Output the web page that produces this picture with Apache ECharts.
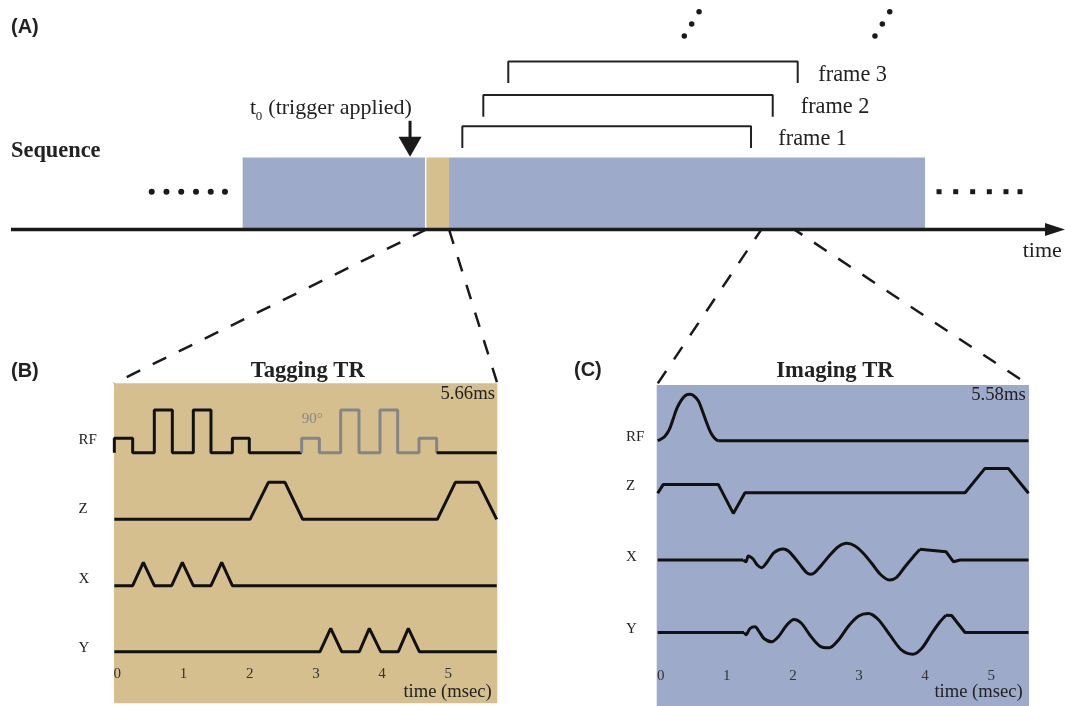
<!DOCTYPE html>
<html><head><meta charset="utf-8">
<script src="https://cdn.jsdelivr.net/npm/echarts@6/dist/echarts.min.js"></script>
<style>html,body{margin:0;padding:0;background:#fff}#c{width:1065px;height:706px}</style>
</head><body><div id="c"></div>
<script>
// ---------------- Panel A: sequence overview (arbitrary time units, 0..100) ----------------
const blockNames  = ['preparation', 'tagging TR', 'imaging TRs'];
const blockStart  = [21.98, 39.41, 41.56];
const blockEnd    = [39.28, 41.56, 86.72];
const frameNames  = ['frame 1', 'frame 2', 'frame 3'];
const frameStart  = [42.82, 44.81, 47.18];
const frameEnd    = [70.21, 72.27, 74.64];
const triggerTime = 37.86;
const imagingTRzoom = [71.38, 73.9];
const leftEllipsis  = [13.35, 14.75, 16.15, 17.55, 18.95, 20.3];
const rightEllipsis = [88.05, 89.63, 91.24, 92.82, 94.4, 95.73];
const moreFramesA = [[63.88, 8.06], [64.58, 8.56], [65.28, 9.07]];
const moreFramesB = [[81.97, 8.06], [82.67, 8.56], [83.37, 9.07]];

// ---------------- Panel B: Tagging TR (time ms, amplitude a.u.) ----------------
const tagTicks = [0, 1, 2, 3, 4, 5];
const tagRF = [[-0.045,0],[-0.045,14.4],[0.232,14.4],[0.232,0],[0.559,0],[0.559,42.7],[0.831,42.7],[0.831,0],
  [1.148,0],[1.148,42.7],[1.415,42.7],[1.415,0],[1.738,0],[1.738,14.4],[1.994,14.4],[1.994,0],[2.785,0]];
const tagRF90 = [[2.785,0],[2.785,14.4],[3.052,14.4],[3.052,0],[3.374,0],[3.374,42.7],[3.651,42.7],[3.651,0],
  [3.968,0],[3.968,42.7],[4.235,42.7],[4.235,0],[4.557,0],[4.557,14.4],[4.824,14.4],[4.824,0]];
const tagRFend = [[4.824,0],[5.731,0]];
const tagZ = [[-0.045,0],[2.005,0],[2.282,37],[2.533,37],[2.8,0],[4.834,0],[5.106,37],[5.453,37],[5.731,0]];
const tagX = [[-0.045,0],[0.232,0],[0.393,23.4],[0.559,0],[0.821,0],[0.982,23.4],[1.148,0],[1.415,0],[1.577,23.4],[1.738,0],[5.731,0]];
const tagY = [[-0.045,0],[3.062,0],[3.223,23.4],[3.389,0],[3.656,0],[3.807,23.4],[3.979,0],[4.245,0],[4.396,23.4],[4.562,0],[5.731,0]];

// ---------------- Panel C: Imaging TR (time ms, amplitude a.u.) ----------------
const imgTicks = [0, 1, 2, 3, 4, 5];
const imgRFpulse = [[-0.045,0],[0.0,1.5],[0.065,4.5],[0.13,11],[0.19,22],[0.25,33],[0.318,41],[0.38,45.5],[0.443,46.4],
  [0.5,45],[0.569,40],[0.63,30],[0.696,18],[0.75,9],[0.796,4],[0.84,1],[0.871,0]];
const imgRFflat = [[0.871,0],[5.565,0]];
const imgZ = [[-0.045,-0.5],[0.04,8.3],[0.871,8.3],[1.099,-20.7],[1.275,0],[4.605,0],[4.906,24.3],[5.259,24.3],[5.565,-0.5]];
const imgXflat = [[-0.045,0],[1.25,0]];
const imgXwave = [[1.25,0],[1.29,-1.7],[1.326,4],[1.401,0.7],[1.462,-5],[1.527,-7.7],[1.603,-2.7],[1.704,6.7],[1.78,10],
  [1.855,11],[1.931,9],[2.032,1.7],[2.133,-6.7],[2.208,-12.7],[2.269,-14.3],[2.334,-12.3],[2.435,-5],[2.561,5],[2.687,13.3],
  [2.813,16.7],[2.94,14],[3.065,6.7],[3.192,-3.3],[3.318,-14],[3.459,-20],[3.57,-17.3],[3.696,-6.7],[3.822,3.3],[3.923,10.7]];
const imgXramp = [[3.923,10.7],[4.316,8.3],[4.427,-1.7],[4.53,0],[5.565,0]];
const imgYflat = [[-0.045,0],[1.26,0]];
const imgYwave = [[1.26,0],[1.29,-2.3],[1.351,4],[1.427,5.7],[1.492,0.7],[1.563,-6],[1.679,-9.3],[1.78,-4.3],[1.906,7.3],
  [2.017,13],[2.133,9],[2.259,-2.7],[2.41,-13.7],[2.551,-15.3],[2.687,-7.7],[2.839,6.3],[2.99,16.3],[3.141,19],[3.292,13],
  [3.469,-2.7],[3.646,-17.7],[3.812,-21.7],[3.948,-16],[4.099,-1],[4.226,10.7],[4.316,17.3]];
const imgYramp = [[4.316,17.3],[4.402,17],[4.604,0],[5.565,0]];

const channelNames = ['RF', 'Z', 'X', 'Y'];

// ---------------- layout / style ----------------
const L = {
  blockTop: 3.0, frameLevel: [4.3, 5.6, 7.0], legLen: 0.9,
  ellipsisLevel: 1.575,
  tagLane: { RF: 0, Z: -66.6, X: -133, Y: -199 },
  imgLane: { RF: 0, Z: -52, X: -119.3, Y: -191.8 },
  tagLabelAt: [12.4, -56.8, -126.3, -195.3],
  imgLabelAt: [3.4, -45.3, -116.6, -188.6]
};
const BLUE = '#9eaac9', TAN = '#d5bf8f', INK = '#111', TXT = '#222';
const SERIF = '"Liberation Serif", "DejaVu Serif", serif';
const SANS = '"Liberation Sans", Arial, sans-serif';

const chart = echarts.init(document.getElementById('c'), null, { renderer: 'canvas' });

function trace(data, lane, ax, color, smooth) {
  return {
    type: 'line', xAxisIndex: ax, yAxisIndex: ax, symbol: 'none', silent: true, z: 5,
    smooth: smooth || false, animation: false,
    data: data.map(p => [p[0], p[1] + lane]),
    lineStyle: { color: color, width: 3 }
  };
}
function nameFor(list) {
  return v => { let best = 0; list.forEach((x, i) => { if (Math.abs(x - v) < Math.abs(list[best] - v)) best = i; }); return channelNames[best]; };
}
const solid = { color: '#1a1a1a', opacity: 1 };

const series = [];
// A: blocks
series.push({
  type: 'custom', xAxisIndex: 0, yAxisIndex: 0, silent: true, z: 2,
  data: blockNames.map((n, i) => [blockStart[i], blockEnd[i], i]),
  renderItem: (params, api) => {
    const p0 = api.coord([api.value(0), 0]);
    const p1 = api.coord([api.value(1), L.blockTop]);
    return { type: 'rect', shape: { x: p0[0], y: p1[1], width: p1[0] - p0[0], height: p0[1] - p1[1] },
      style: { fill: api.value(2) === 1 ? TAN : BLUE } };
  }
});
// A: time axis
series.push({ type: 'line', xAxisIndex: 0, yAxisIndex: 0, clip: false, symbol: 'none', silent: true, z: 4,
  data: [[0, 0], [98.6, 0]], lineStyle: { color: '#1a1a1a', width: 3.5 } });
series.push({ type: 'scatter', xAxisIndex: 0, yAxisIndex: 0, clip: false, silent: true, z: 4,
  data: [[99.05, 0]], symbol: 'triangle', symbolSize: [13, 20], symbolRotate: -90, itemStyle: solid });
// A: trigger arrow
series.push({ type: 'line', xAxisIndex: 0, yAxisIndex: 0, clip: false, symbol: 'none', silent: true, z: 4,
  data: [[triggerTime, 4.53], [triggerTime, 3.8]], lineStyle: { color: '#1a1a1a', width: 3 } });
series.push({ type: 'scatter', xAxisIndex: 0, yAxisIndex: 0, clip: false, silent: true, z: 4,
  data: [[triggerTime, 3.45]], symbol: 'triangle', symbolSize: [23, 20], symbolRotate: 180, itemStyle: solid });
// A: frame brackets
frameNames.forEach((n, i) => {
  const lv = L.frameLevel[i];
  series.push({ type: 'line', xAxisIndex: 0, yAxisIndex: 0, clip: false, symbol: 'none', silent: true, z: 4,
    data: [[frameStart[i], lv - L.legLen], [frameStart[i], lv], [frameEnd[i], lv], [frameEnd[i], lv - L.legLen]],
    lineStyle: { color: '#222', width: 2 } });
});
// A: ellipses
series.push({ type: 'scatter', xAxisIndex: 0, yAxisIndex: 0, clip: false, silent: true,
  data: leftEllipsis.map(x => [x, L.ellipsisLevel]), symbol: 'circle', symbolSize: 6, itemStyle: solid });
series.push({ type: 'scatter', xAxisIndex: 0, yAxisIndex: 0, clip: false, silent: true,
  data: rightEllipsis.map(x => [x, L.ellipsisLevel]), symbol: 'rect', symbolSize: 5, itemStyle: solid });
series.push({ type: 'scatter', xAxisIndex: 0, yAxisIndex: 0, clip: false, silent: true,
  data: moreFramesA.concat(moreFramesB), symbol: 'circle', symbolSize: 5.5, itemStyle: solid });

// B traces
series.push(trace(tagRF, L.tagLane.RF, 1, INK));
series.push(trace(tagRF90, L.tagLane.RF, 1, '#858585'));
series.push(trace(tagRFend, L.tagLane.RF, 1, INK));
series.push(trace(tagZ, L.tagLane.Z, 1, INK));
series.push(trace(tagX, L.tagLane.X, 1, INK));
series.push(trace(tagY, L.tagLane.Y, 1, INK));
// C traces
series.push(trace(imgRFpulse, L.imgLane.RF, 2, INK, 0.4));
series.push(trace(imgRFflat, L.imgLane.RF, 2, INK));
series.push(trace(imgZ, L.imgLane.Z, 2, INK));
series.push(trace(imgXflat, L.imgLane.X, 2, INK));
series.push(trace(imgXwave, L.imgLane.X, 2, INK, 0.3));
series.push(trace(imgXramp, L.imgLane.X, 2, INK));
series.push(trace(imgYflat, L.imgLane.Y, 2, INK));
series.push(trace(imgYwave, L.imgLane.Y, 2, INK, 0.3));
series.push(trace(imgYramp, L.imgLane.Y, 2, INK));

const hidden = { show: false };
function timeAxis(gi, min, max, ticks) {
  return { type: 'value', gridIndex: gi, min: min, max: max,
    axisLine: hidden, axisTick: hidden, splitLine: hidden,
    axisLabel: { inside: true, margin: 22, customValues: ticks, color: '#333', fontFamily: SERIF, fontSize: 15 } };
}
function laneAxis(gi, min, max, at, margin) {
  return { type: 'value', gridIndex: gi, min: min, max: max,
    axisLine: hidden, axisTick: hidden, splitLine: hidden,
    axisLabel: { customValues: at, formatter: nameFor(at), align: 'left', margin: margin,
      color: TXT, fontFamily: SERIF, fontSize: 15 } };
}

chart.setOption({
  animation: false,
  grid: [
    { left: 11, top: 1.5, width: 1054, height: 228, show: false },
    { left: 114, top: 383.3, width: 383.3, height: 320, show: true, backgroundColor: TAN, borderWidth: 0 },
    { left: 656.7, top: 385, width: 372.3, height: 321, show: true, backgroundColor: BLUE, borderWidth: 0 }
  ],
  xAxis: [
    { type: 'value', gridIndex: 0, min: 0, max: 100, show: false },
    timeAxis(1, -0.05, 5.74, tagTicks),
    timeAxis(2, -0.06, 5.572, imgTicks)
  ],
  yAxis: [
    { type: 'value', gridIndex: 0, min: 0, max: 9.5, show: false },
    laneAxis(1, -250.6, 69.4, L.tagLabelAt, 35.5),
    laneAxis(2, -265.3, 55.7, L.imgLabelAt, 30.7)
  ],
  series: series
});

// zoom lines (dashed) computed through the axes' scales
const A = { xAxisIndex: 0, yAxisIndex: 0 }, B = { xAxisIndex: 1, yAxisIndex: 1 }, C = { xAxisIndex: 2, yAxisIndex: 2 };
const a1 = chart.convertToPixel(A, [blockStart[1], 0]);
const a2 = chart.convertToPixel(A, [blockEnd[1], 0]);
const b1 = chart.convertToPixel(B, [-0.05, 69.4]);
const b2 = chart.convertToPixel(B, [5.74, 69.4]);
const a3 = chart.convertToPixel(A, [imagingTRzoom[0], 0.12]);
const a4 = chart.convertToPixel(A, [imagingTRzoom[1], 0.12]);
const c1 = chart.convertToPixel(C, [-0.06, 55.7]);
const c2 = chart.convertToPixel(C, [5.572, 55.7]);
function dash(p, q) {
  return { type: 'line', z: 1, silent: true, shape: { x1: p[0], y1: p[1], x2: q[0], y2: q[1] },
    style: { stroke: '#1a1a1a', lineWidth: 2.5, lineDash: [15, 14] } };
}
function txt(text, x, y, size, opt) {
  opt = opt || {};
  return { type: 'text', x: x, y: y, z: 10, silent: true,
    style: { text: text, fill: opt.fill || TXT, fontSize: size, fontFamily: opt.family || SERIF,
      fontWeight: opt.bold ? 'bold' : 'normal', align: opt.align || 'left', verticalAlign: 'middle' } };
}
const fl = [[778.3, 139.5], [800.7, 107.1], [818.3, 75.1]];
chart.setOption({
  graphic: [
    dash(a1, b1), dash(a2, b2), dash(a3, c1), dash(a4, c2),
    txt('(A)', 11, 27, 20, { bold: true, family: SANS }),
    txt('Sequence', 11, 151, 22.4, { bold: true }),
    txt('t', 250, 108, 22), txt('0', 255.8, 116.5, 13), txt('(trigger applied)', 268.3, 108, 22),
    txt(frameNames[0], fl[0][0], fl[0][1], 22.3),
    txt(frameNames[1], fl[1][0], fl[1][1], 22.3),
    txt(frameNames[2], fl[2][0], fl[2][1], 22.3),
    txt('time', 1022.7, 251.3, 22),
    txt('(B)', 11, 371, 20, { bold: true, family: SANS }),
    txt('Tagging TR', 307.7, 371, 22.6, { bold: true, align: 'center' }),
    txt('5.66ms', 495, 394, 18.7, { align: 'right' }),
    txt('time (msec)', 491.7, 691.7, 18.6, { align: 'right' }),
    txt('90°', 301.7, 419, 15, { fill: '#888' }),
    txt('(C)', 574, 370, 20, { bold: true, family: SANS }),
    txt('Imaging TR', 835, 371, 22.6, { bold: true, align: 'center' }),
    txt('5.58ms', 1025.7, 395, 18.7, { align: 'right' }),
    txt('time (msec)', 1022.7, 691.7, 18.6, { align: 'right' })
  ]
});
</script></body></html>
